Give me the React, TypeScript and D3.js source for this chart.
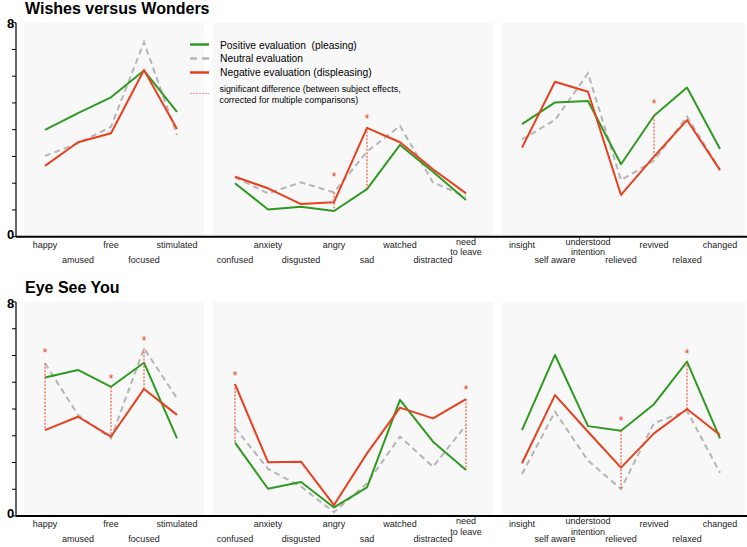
import React from "react";
import * as d3 from "d3";

// ---------- data ----------
const CATS_A = ["happy", "amused", "free", "focused", "stimulated"];
const CATS_B = ["confused", "anxiety", "disgusted", "angry", "sad", "watched", "distracted", "need\nto leave"];
const CATS_C = ["insight", "self aware", "understood\nintention", "relieved", "revived", "relaxed", "changed"];

// Wishes versus Wonders
const WW_POSITIVE = [
  [3.99, 4.62, 5.21, 6.21, 4.67],
  [2.0, 1.02, 1.12, 0.96, 1.78, 3.43, 2.43, 1.37],
  [4.21, 5.02, 5.07, 2.71, 4.52, 5.58, 3.28],
];
const WW_NEUTRAL = [
  [3.02, 3.49, 4.11, 7.27, 3.8],
  [2.22, 1.62, 2.03, 1.66, 3.18, 4.14, 2.03, 1.5],
  [3.64, 4.36, 6.11, 2.12, 2.84, 4.49, 2.5],
];
const WW_NEGATIVE = [
  [2.65, 3.53, 3.87, 6.23, 4.03],
  [2.24, 1.81, 1.22, 1.29, 4.07, 3.53, 2.52, 1.62],
  [3.33, 5.79, 5.42, 1.56, 2.99, 4.36, 2.49],
];

// Eye See You
const ESY_POSITIVE = [
  [5.18, 5.46, 4.83, 5.73, 2.9],
  [2.74, 1.02, 1.27, 0.32, 1.07, 4.34, 2.78, 1.72],
  [3.21, 6.02, 3.36, 3.19, 4.18, 5.77, 2.9],
];
const ESY_NEUTRAL = [
  [5.71, 3.78, 2.9, 6.27, 4.4],
  [3.3, 1.76, 1.1, 0.14, 1.22, 2.97, 1.84, 3.4],
  [1.57, 3.9, 2.07, 1.01, 3.47, 3.93, 1.62],
];
const ESY_NEGATIVE = [
  [3.21, 3.71, 2.97, 4.75, 3.78],
  [4.93, 2.01, 2.03, 0.41, 2.34, 4.05, 3.65, 4.37],
  [1.97, 4.52, 3.15, 1.81, 3.09, 4.0, 3.03],
];

// significance markers: [panel, category index, from value, to value, asterisk value]
const WW_SIG = [
  [1, 3, 1.66, 0.96, 2.31],
  [1, 4, 4.07, 1.78, 4.49],
  [2, 4, 4.52, 3.05, 5.05],
];
const ESY_SIG = [
  [0, 0, 5.71, 3.21, 6.17],
  [0, 2, 4.83, 2.97, 5.23],
  [0, 3, 6.27, 4.75, 6.64],
  [1, 0, 4.93, 2.74, 5.33],
  [1, 7, 4.37, 1.72, 4.8],
  [2, 3, 3.19, 1.01, 3.65],
  [2, 5, 5.77, 4.0, 6.14],
];

const Y_TICKS = d3.range(0, 9);
const TITLES = ["Wishes versus Wonders", "Eye See You"];

// ---------- style ----------
const GREEN = "#2f9a22";
const RED = "#e8401e";
const GRAY = "#b5b5b5";
const FONT = "Liberation Sans, Arial, Helvetica, sans-serif";

const CATS = [CATS_A, CATS_B, CATS_C];
const PANEL_BG: [number, number][] = [[24, 204], [213, 493], [502, 745]];
const POINT_RANGE: [number, number][] = [[45, 177], [235, 466], [522, 720]];
const FIRST_TOP = [true, false, true];

function Row({ top, title, pos, neu, neg, sig }: any) {
  const y = d3.scaleLinear().domain([0, 8]).range([top + 214, top]);
  const xs = CATS.map((c, i) => d3.scalePoint<number>().domain(d3.range(c.length) as any).range(POINT_RANGE[i]));
  const axisY = y(0);
  return (
    <g>
      <text x={25} y={top - 9} fontFamily={FONT} fontWeight="bold" fontSize={16}>{title}</text>
      {PANEL_BG.map(([a, b], i) => (
        <rect key={i} x={a} y={top} width={b - a} height={axisY - top} fill="#f8f8f8" />
      ))}
      {/* y axis */}
      <line x1={16} x2={16} y1={top} y2={axisY} stroke="#000" strokeWidth={1.2} />
      {Y_TICKS.map((t) => (
        <line key={t} x1={12} x2={16} y1={y(t)} y2={y(t)} stroke="#000" strokeWidth={1} />
      ))}
      <text x={10.5} y={y(8) + 5.5} textAnchor="middle" fontFamily={FONT} fontWeight="bold" fontSize={13}>8</text>
      <text x={10.5} y={y(0) + 2} textAnchor="middle" fontFamily={FONT} fontWeight="bold" fontSize={13}>0</text>
      <line x1={16} x2={747} y1={axisY} y2={axisY} stroke="#000" strokeWidth={2} />
      {CATS.map((cats, p) => {
        const x = xs[p];
        const line = d3.line<number>().x((_, i) => x(i) as number).y((v) => y(v));
        return (
          <g key={p}>
            <path d={line(neu[p]) || ""} fill="none" stroke={GRAY} strokeWidth={2} strokeDasharray="6,4" />
            <path d={line(pos[p]) || ""} fill="none" stroke={GREEN} strokeWidth={2} strokeLinejoin="round" />
            <path d={line(neg[p]) || ""} fill="none" stroke={RED} strokeWidth={2} strokeLinejoin="round" />
            {cats.map((c, i) => {
              const isTop = (i % 2 === 0) === FIRST_TOP[p];
              const lines = c.split("\n");
              const base = lines.length > 1 ? axisY + 8 : isTop ? axisY + 11 : axisY + 26;
              return (
                <text key={i} x={x(i)} y={base} textAnchor="middle" fontFamily={FONT} fontSize={9} fill="#222">
                  {lines.map((l, k) => (
                    <tspan key={k} x={x(i)} dy={k === 0 ? 0 : 10.5}>{l}</tspan>
                  ))}
                </text>
              );
            })}
          </g>
        );
      })}
      {sig.map(([p, i, a, b, s]: number[], k: number) => {
        const xv = xs[p](i) as number;
        return (
          <g key={k}>
            <line x1={xv} x2={xv} y1={y(a)} y2={y(b)} stroke={RED} strokeWidth={1} strokeDasharray="2,1.5" />
            <text x={xv} y={y(s) + 6.5} textAnchor="middle" fontFamily={FONT} fontSize={12} fill={RED}>*</text>
          </g>
        );
      })}
    </g>
  );
}

export default function App() {
  return (
    <svg width={747} height={547} style={{ position: "absolute", left: 0, top: 0, background: "#fff" }}>
      <Row top={22.7} title={TITLES[0]} pos={WW_POSITIVE} neu={WW_NEUTRAL} neg={WW_NEGATIVE} sig={WW_SIG} />
      <Row top={302} title={TITLES[1]} pos={ESY_POSITIVE} neu={ESY_NEUTRAL} neg={ESY_NEGATIVE} sig={ESY_SIG} />
      {/* legend */}
      <g fontFamily={FONT}>
        <line x1={190} x2={209} y1={44.5} y2={44.5} stroke={GREEN} strokeWidth={2.5} />
        <line x1={190} x2={209} y1={58.5} y2={58.5} stroke={GRAY} strokeWidth={2.5} strokeDasharray="7,5" />
        <line x1={190} x2={209} y1={72.5} y2={72.5} stroke={RED} strokeWidth={2.5} />
        <line x1={190} x2={209} y1={93.5} y2={93.5} stroke="#f09a8a" strokeWidth={1} strokeDasharray="2,1" />
        <text x={220} y={48.5} fontSize={10.3}>{"Positive evaluation\u00a0\u00a0(pleasing)"}</text>
        <text x={220} y={62} fontSize={10.3}>Neutral evaluation</text>
        <text x={220} y={76} fontSize={10.3}>Negative evaluation (displeasing)</text>
        <text x={219.5} y={91.5} fontSize={8.9}>significant difference (between subject effects,</text>
        <text x={219.5} y={102.5} fontSize={8.9}>corrected for multiple comparisons)</text>
      </g>
    </svg>
  );
}
